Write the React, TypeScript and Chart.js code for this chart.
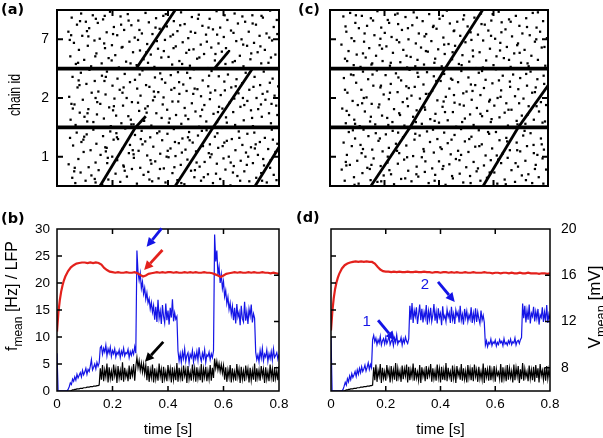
import React, { useEffect, useRef } from "react";
import { Chart, registerables } from "chart.js";

Chart.register(...registerables);

// ================= DATA =================
// raster panels (a) and (c): x = time [ms], y = position along chain (band 0-10: chain 1, 10-20: chain 2, 20-30: chain 7)
const chainLabels = ["1", "2", "7"];
const chainCenters = [5, 15, 25];
const chainBoundaries = [10, 20];
const rasterTickTimesMs = [200, 400, 600];

const dotsA: [number, number][] = [
  [42,3.7],[47,8.2],[55,1.4],[58,6.9],[66,0.5],[71,9.1],[77,4.6],[85,2.3],[88,7.5],[96,5.8],[103,0.9],[107,8.8],[114,3.2],[121,6.1],[124,1.8],[131,9.6],[139,4.0],[142,7.2],[150,2.7],[157,5.3],[163,0.2],[166,8.5],[174,6.6],[181,3.9],[185,1.1],[192,9.3],[199,5.0],[204,7.9],[211,2.1],[217,4.4],[220,8.0],[228,0.7],[235,6.3],[239,3.5],[246,9.8],[252,1.6],[259,5.6],[263,7.0],[270,2.9],[277,4.8],[281,8.7],[288,0.4],[294,6.0],[300,3.1],[305,9.4],[312,1.9],[318,7.6],[325,5.2],[329,2.4],[336,8.3],[343,0.8],[347,6.7],[354,4.2],[361,9.0],[366,1.3],[372,5.5],[379,7.8],[385,3.0],[391,0.6],[398,8.9],[402,4.9],[409,6.4],[416,2.2],[421,9.7],[427,5.1],[434,1.0],[439,7.3],[446,3.6],[452,8.1],[459,0.3],[463,6.2],[470,4.5],[476,9.2],[483,2.6],[489,7.4],[495,1.5],[501,5.9],[508,8.6],[514,3.3],[519,0.9],[526,6.8],[532,4.1],[539,9.5],[544,2.0],[551,7.1],[557,5.4],[562,0.5],[569,8.4],[576,3.8],[581,6.5],[588,1.2],[594,9.9],[600,4.7],[607,2.8],[612,7.7],[619,5.0],[625,0.1],[630,8.0],[637,3.4],[643,6.1],[650,1.7],[655,9.3],[662,4.3],[668,7.0],[675,2.5],[681,5.7],[686,8.9],[693,0.8],[699,6.6],[706,3.9],[711,9.1],[718,1.4],[724,5.3],[731,7.5],[736,2.2],[743,4.6],[749,8.2],[756,0.6],[761,6.3],[768,3.1],[774,9.6],[781,1.9],[787,5.8],[794,7.2],
  [62,2.5],[64,3.1],[95,7.9],[98,8.4],[136,1.2],[139,0.6],[176,5.9],[179,6.5],[183,4.8],[214,9.0],[216,8.3],[241,3.3],[244,2.6],[273,6.1],[276,5.4],[302,8.0],[308,7.1],[333,1.1],[337,4.4],[340,3.8],[369,9.3],[371,2.9],[395,5.0],[399,6.0],[423,3.2],[425,7.5],[448,0.5],[450,5.7],[472,8.3],[478,7.8],[497,2.7],[503,4.0],[522,9.4],[529,1.5],[547,5.6],[552,4.9],[573,2.1],[578,9.0],[597,6.8],[603,7.4],[626,4.0],[634,2.3],[657,8.2],[660,0.9],[684,3.6],[689,5.0],[713,6.4],[716,7.1],[739,0.9],[746,3.5],[770,4.4],[778,7.9],[791,1.0],
  [44,15.2],[49,11.3],[56,18.6],[63,13.9],[67,10.4],[74,16.8],[82,12.5],[86,19.3],[93,14.7],[99,11.8],[106,17.4],[113,13.1],[117,19.8],[125,15.9],[131,10.9],[136,17.9],[144,12.2],[149,16.1],[156,14.0],[162,18.8],[169,11.5],[175,15.6],[180,19.5],[188,13.4],[194,10.2],[200,17.1],[207,14.9],[213,12.0],[218,18.3],[226,16.4],[232,10.7],[238,13.7],[244,19.1],[251,15.0],[257,11.9],[263,17.7],[270,14.3],[276,10.5],[281,18.1],[289,16.6],[296,12.8],[301,15.4],[308,19.7],[314,11.1],[321,17.2],[327,13.6],[333,16.9],[340,10.3],[346,14.6],[353,18.5],[358,12.4],[365,16.0],[372,19.2],[377,11.6],[384,15.1],[390,17.6],[397,13.0],[403,10.8],[410,18.9],[416,14.4],[423,16.7],[429,12.1],[436,19.4],[441,15.7],[448,10.6],[455,17.3],[460,13.3],[467,16.2],[473,11.4],[480,18.4],[486,14.1],[493,19.9],[499,12.7],[506,16.5],[512,10.1],[519,15.3],[525,18.0],[531,13.8],[538,11.0],[545,17.0],[551,14.8],[557,19.6],[564,12.3],[570,16.3],[577,10.9],[583,18.7],[590,15.5],[596,13.2],[603,17.8],[609,11.7],[616,19.0],[622,14.2],[628,16.8],[635,12.6],[642,10.4],[647,18.2],[654,15.8],[661,13.5],[667,17.5],[673,11.2],[680,19.3],[686,14.5],[693,16.4],[699,12.9],[706,10.2],[712,18.6],[719,15.0],[725,13.1],[732,17.2],[738,11.8],[745,19.5],[751,14.7],[758,16.1],[764,12.4],[771,10.7],[777,18.3],[784,15.4],[790,13.7],[797,17.0],
  [52,14.0],[57,13.2],[78,18.0],[81,17.2],[109,11.0],[110,12.4],[139,15.0],[145,14.3],[171,17.9],[176,18.6],[202,12.9],[205,13.6],[236,15.9],[240,16.8],[266,11.3],[268,10.5],[292,14.2],[298,19.0],[318,13.2],[323,12.5],[349,16.1],[352,15.2],[378,18.2],[381,13.9],[406,11.5],[412,16.4],[437,14.4],[440,17.7],[463,12.0],[469,19.3],[491,15.7],[496,16.6],[517,11.9],[523,13.0],[548,18.8],[553,15.9],[580,12.6],[584,13.5],[605,16.3],[612,10.8],[639,14.9],[644,17.0],[670,15.0],[675,13.8],[703,11.6],[708,16.9],[735,13.9],[741,15.7],[767,17.6],[773,14.0],[794,12.1],
  [41,26.3],[48,22.1],[53,28.7],[61,24.4],[68,20.8],[72,27.5],[79,23.2],[87,29.4],[91,25.6],[98,21.5],[104,28.0],[111,23.9],[116,26.9],[123,20.4],[129,29.1],[135,24.8],[142,22.6],[147,27.8],[154,25.1],[161,20.9],[166,28.4],[173,23.5],[179,26.2],[186,21.8],[191,29.7],[198,24.0],[205,27.1],[210,22.3],[217,25.7],[223,20.2],[229,28.9],[236,23.7],[242,26.6],[249,21.2],[255,29.3],[261,24.6],[268,27.4],[274,22.8],[280,25.3],[287,20.6],[293,28.2],[299,23.1],[306,26.0],[312,21.6],[319,29.5],[325,24.2],[331,27.9],[338,22.4],[344,25.9],[351,20.3],[357,28.6],[364,23.4],[370,26.8],[376,21.9],[383,29.0],[389,24.9],[396,27.2],[402,22.0],[409,25.5],[415,20.7],[421,28.1],[428,23.8],[434,26.4],[441,21.3],[447,29.6],[453,24.5],[460,27.6],[466,22.7],[473,25.2],[479,20.5],[486,28.8],[492,23.3],[498,26.1],[505,21.7],[511,29.2],[518,24.1],[524,27.3],[530,22.5],[537,25.8],[543,20.1],[550,28.5],[556,23.6],[562,26.7],[569,21.4],[575,29.8],[582,24.3],[588,27.0],[594,22.9],[601,25.4],[607,20.8],[614,28.3],[620,23.0],[627,26.5],[633,21.1],[640,29.4],[646,24.7],[652,27.7],[659,22.2],[665,25.0],[672,20.4],[678,28.0],[685,23.9],[691,26.3],[697,21.6],[704,29.1],[710,24.4],[717,27.5],[723,22.8],[730,25.6],[736,20.9],[742,28.7],[749,23.2],[755,26.0],[762,21.0],[768,29.9],[775,24.8],[781,27.1],[787,22.4],[794,25.9],
  [46,24.9],[51,25.7],[76,21.0],[83,28.1],[108,26.4],[113,25.5],[138,22.1],[140,28.5],[170,24.3],[172,29.0],[197,21.4],[202,25.9],[231,27.5],[233,23.6],[258,28.2],[265,20.9],[292,24.9],[297,26.6],[322,22.8],[328,21.0],[355,27.0],[360,24.7],[385,23.0],[392,29.3],[418,25.8],[420,23.5],[444,27.4],[451,20.8],[476,23.2],[482,26.3],[508,28.5],[513,21.9],[540,24.6],[546,27.0],[571,22.5],[577,25.8],[604,29.1],[609,23.5],[636,26.1],[641,21.3],[668,28.9],[671,24.1],[700,22.6],[705,27.7],[733,23.8],[737,29.0],[765,25.3],[771,21.9],[792,28.3],
];

const dotsC: [number, number][] = [
  [43,2.8],[50,7.4],[54,0.9],[62,5.3],[69,9.2],[73,3.6],[80,6.8],[88,1.5],[92,8.1],[100,4.3],[105,0.4],[112,7.0],[119,2.2],[123,9.6],[130,5.0],[137,3.1],[141,8.5],[149,1.0],[155,6.2],[160,4.7],[168,9.0],[174,0.7],[178,7.7],[186,3.4],[193,5.9],[197,1.8],[205,8.8],[211,4.0],[216,6.5],[224,2.0],[230,9.4],[235,0.3],[242,7.2],[249,3.8],[254,5.6],[261,1.2],[268,8.3],[272,4.5],[280,6.9],[287,2.6],[291,9.8],[299,0.8],[305,5.1],[310,7.9],[318,3.3],[324,1.6],[329,8.6],[337,4.9],[343,6.3],[348,2.4],[356,9.3],[362,0.5],[367,7.5],[375,3.0],[381,5.7],[386,1.9],[394,8.0],[400,4.2],[405,6.6],[413,2.9],[419,9.1],[424,0.2],[432,7.3],[438,3.7],[443,5.4],[451,1.3],[457,8.7],[462,4.6],[470,6.0],[476,2.1],[481,9.7],[489,0.6],[495,7.6],[500,3.2],[508,5.8],[514,1.7],[519,8.4],[527,4.1],[533,6.7],[538,2.5],[546,9.5],[552,0.9],[557,7.1],[565,3.5],[571,5.2],[576,1.4],[584,8.9],[590,4.4],[595,6.4],[603,2.3],[609,9.2],[614,0.4],[622,7.8],[628,3.9],[633,5.5],[641,1.1],[647,8.2],[652,4.8],[660,6.1],[666,2.7],[671,9.9],[679,0.7],[685,7.4],[690,3.3],[698,5.9],[704,1.8],[709,8.6],[717,4.3],[723,6.8],[728,2.0],[736,9.0],[742,0.5],[747,7.0],[755,3.6],[761,5.3],[766,1.5],[774,8.1],[780,4.7],[785,6.2],[793,2.8],
  [58,4.1],[60,3.5],[84,9.5],[90,0.2],[116,5.6],[121,6.3],[146,2.9],[152,3.6],[183,8.1],[188,0.8],[212,5.0],[218,2.7],[246,6.0],[250,9.1],[276,1.3],[283,4.9],[313,8.9],[317,2.0],[345,5.9],[350,4.2],[378,9.6],[384,0.9],[410,6.3],[416,3.4],[446,7.9],[448,1.7],[475,4.4],[481,5.3],[511,8.0],[516,0.5],[543,3.0],[548,6.8],[580,9.2],[586,2.3],[612,5.2],[617,4.5],[645,0.3],[650,7.6],[681,3.9],[687,6.1],[714,9.4],[719,1.0],[748,5.6],[752,2.9],[777,7.1],[783,0.4],
  [45,13.2],[51,18.4],[58,10.7],[64,15.9],[70,12.1],[77,19.0],[83,14.5],[89,11.3],[96,17.6],[102,13.8],[109,10.2],[115,16.4],[121,19.5],[128,12.7],[134,15.1],[140,18.2],[147,11.0],[153,14.0],[159,17.1],[166,10.5],[172,19.7],[178,13.4],[185,16.8],[191,12.0],[197,15.6],[204,18.9],[210,11.6],[216,14.8],[223,17.4],[229,10.9],[235,13.1],[242,19.2],[248,16.0],[254,12.4],[261,18.0],[267,14.3],[273,10.3],[280,17.0],[286,13.6],[292,19.8],[299,15.4],[305,11.8],[311,16.9],[318,12.9],[324,18.6],[330,14.9],[337,10.6],[343,17.3],[349,13.0],[356,19.4],[362,15.7],[368,11.4],[375,16.2],[381,18.7],[387,12.3],[394,14.6],[400,10.8],[406,17.9],[413,13.5],[419,19.1],[425,15.2],[432,11.2],[438,16.6],[444,18.3],[451,12.6],[457,14.2],[463,10.1],[470,17.7],[476,13.9],[482,19.6],[489,15.8],[495,11.5],[501,16.1],[508,18.5],[514,12.2],[520,14.7],[527,10.4],[533,17.2],[539,13.3],[546,19.3],[552,15.5],[558,11.9],[565,16.7],[571,18.1],[577,12.8],[584,14.4],[590,10.9],[596,17.5],[603,13.7],[609,19.9],[615,15.0],[622,11.7],[628,16.3],[634,18.8],[641,12.5],[647,14.1],[653,10.3],[660,17.8],[666,13.0],[672,19.0],[679,15.3],[685,11.1],[691,16.5],[698,18.4],[704,12.0],[710,14.9],[717,10.6],[723,17.1],[729,13.6],[736,19.5],[742,15.9],[748,11.3],[755,16.8],[761,18.2],[767,12.7],[774,14.3],[780,10.8],[786,17.4],[793,13.8],
  [55,16.4],[61,12.8],[86,18.9],[92,10.6],[118,14.1],[124,15.0],[150,11.8],[156,19.0],[181,13.9],[187,17.1],[214,10.4],[220,15.9],[251,18.5],[257,12.1],[283,14.9],[289,16.7],[315,10.9],[321,19.3],[347,13.4],[352,15.7],[384,11.1],[390,17.9],[417,14.4],[422,12.6],[449,18.1],[455,15.5],[485,10.9],[491,13.7],[517,17.3],[523,16.2],[552,12.3],[558,19.6],[587,14.7],[593,11.4],[620,18.0],[626,15.2],[655,13.0],[661,16.9],[688,10.5],[694,14.1],[720,19.1],[726,12.2],[752,16.0],[758,13.6],[784,18.8],[789,11.0],
  [42,24.1],[49,28.9],[55,21.7],[60,26.3],[68,23.0],[74,29.5],[79,25.2],[87,20.6],[93,27.8],[98,22.4],[106,26.9],[112,20.3],[117,29.0],[125,24.6],[131,21.9],[136,27.3],[144,23.5],[150,28.6],[155,20.9],[163,25.7],[169,22.2],[174,29.8],[182,24.0],[188,27.0],[193,21.3],[201,26.1],[207,23.8],[212,28.3],[220,20.5],[226,25.4],[231,22.7],[239,29.2],[245,24.9],[250,27.6],[258,21.1],[264,26.6],[269,23.2],[277,28.8],[283,20.2],[288,25.0],[296,22.0],[302,27.4],[307,29.6],[315,24.3],[321,21.5],[326,26.0],[334,23.6],[340,28.1],[345,20.7],[353,25.9],[359,22.9],[364,29.3],[372,24.7],[378,27.1],[383,21.0],[391,26.8],[397,23.3],[402,28.5],[410,20.4],[416,25.3],[421,22.5],[429,29.9],[435,24.2],[440,27.7],[448,21.6],[454,26.4],[459,23.9],[467,28.0],[473,20.8],[478,25.6],[486,22.3],[492,29.1],[497,24.5],[505,27.2],[511,21.2],[516,26.2],[524,23.1],[530,28.7],[535,20.1],[543,25.8],[549,22.8],[554,29.4],[562,24.8],[568,27.5],[573,21.4],[581,26.5],[587,23.4],[592,28.2],[600,20.6],[606,25.1],[611,22.1],[619,29.7],[625,24.4],[630,27.9],[638,21.8],[644,26.7],[649,23.7],[657,28.4],[663,20.3],[668,25.5],[676,22.6],[682,29.0],[687,24.0],[695,27.3],[701,21.0],[706,26.0],[714,23.2],[720,28.6],[725,20.9],[733,25.7],[739,22.2],[744,29.5],[752,24.6],[758,27.0],[763,21.5],[771,26.3],[777,23.6],[782,28.1],[790,20.5],[796,25.2],
  [57,27.2],[63,21.3],[89,24.7],[95,29.1],[121,22.6],[127,26.0],[152,20.7],[158,28.2],[185,25.1],[191,23.4],[217,27.8],[223,21.0],[248,29.4],[254,24.5],[281,22.2],[286,26.9],[313,20.4],[319,28.7],[347,25.5],[352,23.0],[380,27.3],[386,21.7],[414,29.0],[419,24.1],[450,22.8],[456,26.5],[483,20.6],[489,28.4],[519,24.9],[525,22.1],[556,27.6],[561,20.2],[591,25.6],[597,29.3],[624,23.1],[629,26.2],[657,21.5],[663,28.0],[690,24.3],[696,22.7],[723,27.1],[729,20.4],[757,25.0],[763,29.6],[787,23.7],
];

// synfire waves: [t0, y0, t1, y1]
const wavesA: [number, number, number, number][] = [
  [155, 0, 283, 10], [426, 0, 563, 10], [714, 0, 800, 6.6],
  [283, 10, 320, 11.9], [563, 10, 704, 20],
  [285, 20, 426, 30], [567, 20, 618, 22.9],
];
const wavesC: [number, number, number, number][] = [
  [150, 0, 294, 10], [562, 0, 691, 10],
  [294, 10, 422, 20], [691, 10, 800, 17.1],
  [422, 20, 560, 30],
];

// time series panels (b) and (d)
const timeTicksMs = [0, 200, 400, 600, 800];
const rateTicks = [0, 5, 10, 15, 20, 25, 30];
const voltTicks = [8, 12, 16, 20];
const sampleStepMs = 4;

const blueB = [
  7,
  0,0,0,0,0,0,0,0,0,0.3,
  0.8,1.5,1.2,2.2,1.8,2.6,2.0,3.1,2.4,2.9,
  3.4,2.6,3.8,3.0,3.5,4.2,3.1,4.0,3.6,4.6,
  5.8,3.9,4.4,5.0,4.1,5.3,4.6,5.2,
  8.0,
  8.3,6.8,7.9,7.2,8.5,6.5,7.8,7.0,8.1,6.4,7.5,6.9,7.8,6.3,7.2,6.8,7.6,6.2,7.4,6.7,7.9,6.5,7.1,6.9,7.7,6.2,7.3,6.6,7.5,6.8,8.2,7.0,
  26,
  22,20.5,21.8,19,20.2,18,19.1,17,18.2,16.3,17.1,15.2,16.4,14.6,15.8,
  13.2,15.6,12.8,16.9,13.5,14.8,12.4,15.9,13.8,12.6,16.2,13.1,14.9,12.3,15.4,13.6,17.0,12.9,14.5,13.3,
  13.8,
  7.4,5.6,6.9,5.3,7.2,6.0,7.8,5.5,6.6,7.1,5.2,6.8,6.2,7.5,5.4,6.9,6.0,7.3,5.7,8.1,6.3,5.5,7.0,6.1,7.6,5.3,6.7,6.4,7.2,5.8,6.9,6.2,7.4,
  29,
  24,26,21.5,23,20,21.6,19,20.3,17.5,18.6,16.2,17.4,15.1,16.3,14.2,15.7,
  13.1,15.4,12.5,16.1,13.7,14.6,12.2,15.8,13.4,12.8,16.5,13.0,14.7,12.4,15.2,13.9,16.0,12.7,14.3,13.5,
  7.2,5.8,6.7,5.4,7.5,6.1,7.9,5.6,6.8,6.3,7.6,5.5,6.9,6.0,7.3,5.7,7.8,6.2,6.6,7.1,5.9,6.8,
];

const blackB = [
  0,0,0,0,0,0,0,0,0,0,0,0,0,
  0.1,0.2,0.2,0.3,0.3,0.4,0.4,0.4,0.5,0.5,0.5,0.6,0.6,0.6,0.7,0.7,0.7,0.8,0.8,0.8,0.9,0.9,0.9,1.0,1.0,1.1,
  4.2,2.1,4.8,1.8,3.9,2.6,5.1,1.6,4.4,2.3,3.7,1.9,4.9,2.8,4.1,1.5,4.6,2.4,3.8,2.0,5.3,1.7,4.3,2.6,3.6,1.8,4.7,2.2,4.0,2.9,5.0,1.9,4.5,
  6.2,4.3,5.6,3.8,5.2,3.5,5.0,3.2,4.8,
  2.0,4.6,1.7,3.9,2.5,4.9,1.6,4.2,2.2,3.7,1.9,5.1,2.7,4.0,1.5,4.5,2.3,3.6,1.8,4.8,
  2.6,4.1,1.6,4.4,2.1,3.8,2.0,5.2,1.7,4.3,2.4,3.9,1.8,4.7,2.8,4.0,1.5,4.6,2.2,3.5,
  1.9,4.9,2.5,4.2,1.7,4.4,2.3,3.8,2.0,5.0,1.6,4.1,2.6,4.5,1.8,3.7,2.2,4.8,1.9,4.3,
  2.4,
  6.0,4.2,5.5,3.9,5.1,3.6,4.9,3.3,4.7,
  2.1,4.4,1.7,3.9,2.5,4.8,1.6,4.2,2.3,3.6,1.9,5.0,2.6,4.0,1.5,4.5,2.2,3.7,1.8,4.7,
  2.7,4.1,1.6,4.3,2.0,3.8,2.1,5.1,1.7,4.2,2.4,3.9,1.9,4.6,2.8,4.0,1.5,4.4,2.2,3.6,
  1.8,4.9,2.5,4.1,1.7,4.3,2.3,3.8,2.0,4.6,
];

const blueD = [
  10,
  0,0,0,0,0,0,0,0,0,0,0.3,
  0.9,1.6,1.1,2.3,1.7,2.8,2.1,3.2,2.5,3.0,3.6,2.7,3.9,3.1,4.2,3.4,4.5,3.6,4.1,4.8,3.7,4.4,5.2,4.0,4.9,4.3,
  9.5,
  10.3,9.1,9.8,8.6,9.5,8.9,10.1,8.5,9.3,9.7,8.7,9.9,8.8,9.4,10.2,8.6,9.2,9.6,8.4,9.8,9.0,10.4,8.7,9.3,9.1,9.9,8.5,9.6,8.9,10.0,9.2,8.8,9.7,
  15.8,13.2,16.3,12.6,14.9,13.8,15.5,12.4,14.2,16.0,13.1,15.2,12.7,14.6,13.5,15.9,12.3,14.8,13.3,15.4,
  12.9,14.1,16.1,13.0,14.7,12.5,15.3,13.6,14.4,12.2,15.7,13.4,14.0,12.8,15.1,13.7,14.5,12.6,15.6,13.2,
  14.3,12.4,15.0,13.9,14.6,12.7,15.8,13.1,14.2,12.3,15.2,13.5,14.8,12.9,14.1,13.3,15.5,12.6,14.4,13.0,
  15.3,12.8,14.6,13.4,12.5,14.9,13.1,14.0,12.7,
  8.5,9.3,8.2,9.0,8.7,9.6,8.4,9.1,8.8,9.4,8.3,9.0,8.6,9.5,8.9,9.2,8.4,9.7,8.7,9.0,8.5,9.3,8.8,9.6,8.6,9.1,8.9,9.8,8.5,9.2,9.4,8.8,9.5,9.9,
  16.2,13.5,15.8,12.7,14.9,13.2,16.0,12.5,14.4,13.8,15.6,12.9,14.7,13.4,15.2,12.3,14.1,13.6,15.5,12.8,14.6,13.0,15.9,12.6,14.2,13.3,
];

const blackD = [
  0,0,0,0,0,0,0,0,0,0,0,0,0,
  0.1,0.2,0.2,0.3,0.3,0.4,0.4,0.4,0.5,0.5,0.5,0.6,0.6,0.6,0.7,0.7,0.7,0.8,0.8,0.8,0.9,0.9,0.9,1.0,1.0,1.1,
  4.4,2.0,4.9,1.7,3.8,2.7,5.0,1.5,4.3,2.4,3.6,1.9,4.8,2.9,4.0,1.6,4.6,2.3,3.9,2.1,
  5.2,1.8,4.2,2.5,3.7,1.7,4.7,2.2,4.1,2.8,4.9,1.6,4.5,2.0,3.9,2.6,5.1,1.9,4.3,2.4,
  3.5,2.0,4.8,1.5,4.4,2.7,3.8,1.8,4.6,2.2,4.0,2.9,5.0,1.7,4.2,2.3,3.7,1.9,4.9,2.5,
  4.1,1.6,4.5,2.1,3.9,2.0,5.2,1.8,4.3,2.6,3.6,1.7,4.7,2.4,4.0,1.5,4.6,2.8,3.8,2.1,
  5.0,1.9,4.2,2.2,3.7,1.6,4.8,2.5,4.1,2.0,4.4,1.8,4.9,2.7,3.9,1.7,4.5,2.3,3.6,2.1,
  5.1,1.5,4.3,2.6,4.0,1.9,4.7,2.0,3.8,2.4,4.6,1.7,4.1,2.9,3.5,2.2,5.0,1.6,4.4,2.3,
  3.9,1.8,4.8,2.1,4.2,2.5,3.7,1.6,4.9,2.0,4.3,2.7,4.6,1.5,4.0,2.2,5.2,1.9,4.1,2.6,
  3.6,1.8,4.7,2.3,3.9,2.0,4.5,1.7,4.8,2.4,4.2,1.6,5.0,2.8,3.8,2.1,4.4,1.9,4.6,2.3,
  4.0,2.5,
];

const redTimesMs = [
  0,5,10,15,20,25,30,
  40,50,60,70,80,90,100,110,120,130,
  140,150,160,170,180,190,200,210,220,230,
  240,250,260,270,280,290,300,310,320,330,
  340,350,360,370,380,390,400,410,420,430,
  440,450,460,470,480,490,500,510,520,530,
  540,550,560,570,580,590,600,610,620,630,
  640,650,660,670,680,690,700,710,720,730,
  740,750,760,770,780,790,800,
];
const redB = [
  11.0,14.5,16.8,18.4,19.6,20.5,21.2,
  22.2,22.9,23.3,23.6,23.7,23.8,23.8,23.7,23.8,23.7,
  23.8,23.7,23.4,22.8,22.4,22.1,22.0,21.9,22.0,21.9,
  21.9,22.0,21.9,21.9,22.0,21.8,21.5,21.2,21.4,21.7,
  21.8,21.9,22.0,21.9,22.0,21.9,22.0,22.0,21.9,22.0,
  21.9,21.9,22.0,21.9,22.0,21.9,22.0,21.9,21.9,22.0,
  21.9,21.9,21.8,21.6,21.4,21.1,21.4,21.7,21.8,21.9,
  22.0,21.9,22.0,21.9,21.9,22.0,21.9,22.0,21.9,21.9,
  22.0,21.9,21.9,21.8,21.9,21.8,21.7,
];
const redD = [
  11.2,14.8,17.2,18.9,20.1,21.0,21.7,
  22.7,23.3,23.6,23.8,23.9,24.0,23.9,24.0,23.9,24.0,
  23.9,23.9,23.6,23.0,22.5,22.2,22.1,22.1,22.0,22.1,
  22.0,22.1,22.0,22.0,22.1,22.0,22.0,22.1,22.0,22.0,
  22.1,22.0,22.0,21.9,22.0,22.0,21.9,22.0,22.0,21.9,
  22.0,21.9,22.0,21.9,21.9,22.0,21.9,21.9,22.0,21.9,
  21.9,21.9,22.0,21.9,21.9,21.8,21.9,21.9,21.8,21.9,
  21.9,21.8,21.9,21.8,21.8,21.9,21.8,21.8,21.9,21.8,
  21.8,21.8,21.7,21.8,21.8,21.7,21.8,
];

// annotation arrows [tTail(ms), yTail, tHead(ms), yHead] in panel data units
const arrowBlueB = [377, 30.1, 323, 26.7];
const arrowRedB = [380, 26.1, 314, 22.4];
const arrowBlackB = [383, 9.1, 317, 5.4];
const arrowOneD = [172, 13.1, 233, 9.4];
const arrowTwoD = [391, 20.2, 452, 16.5];
const labelOneD = [130, 12.8];
const labelTwoD = [343, 19.6];

// ================= STYLE / HELPERS =================
const SANS = '"Liberation Sans", Arial, Helvetica, sans-serif';
const BOLD = '"DejaVu Sans", sans-serif';
const RED = "#e3211c";
const BLUE = "#1414e6";
const TICK_FONT = { family: SANS, size: 13.5 };

const W = 603;
const H = 438;

function pts(xs: number[], ys: number[]) {
  return ys.map((y, i) => ({ x: xs[i], y }));
}

function fixedTicks(values: number[]) {
  return (scale: any) => {
    scale.ticks = values.map((v) => ({ value: v }));
  };
}

function fitV(width: number) {
  return (s: any) => {
    s.width = s.options.display ? width : 0;
    s.paddingTop = 0;
    s.paddingBottom = 0;
  };
}

function fitH(height: number) {
  return (s: any) => {
    s.height = s.options.display ? height : 0;
    s.paddingLeft = 0;
    s.paddingRight = 0;
  };
}

function drawArrow(ctx: CanvasRenderingContext2D, x0: number, y0: number, x1: number, y1: number, color: string) {
  const head = 9;
  const hw = 4.5;
  const a = Math.atan2(y1 - y0, x1 - x0);
  const bx = x1 - head * Math.cos(a);
  const by = y1 - head * Math.sin(a);
  ctx.save();
  ctx.strokeStyle = color;
  ctx.fillStyle = color;
  ctx.lineWidth = 2.8;
  ctx.beginPath();
  ctx.moveTo(x0, y0);
  ctx.lineTo(bx, by);
  ctx.stroke();
  ctx.beginPath();
  ctx.moveTo(x1, y1);
  ctx.lineTo(bx + hw * Math.sin(a), by - hw * Math.cos(a));
  ctx.lineTo(bx - hw * Math.sin(a), by + hw * Math.cos(a));
  ctx.closePath();
  ctx.fill();
  ctx.restore();
}

function drawVTitle(ctx: CanvasRenderingContext2D, cx: number, cy: number, parts: [string, boolean][], size: number, lenScale = 1) {
  ctx.save();
  ctx.translate(cx, cy);
  ctx.rotate(-Math.PI / 2);
  ctx.scale(lenScale, 1);
  ctx.fillStyle = "#000";
  ctx.textAlign = "left";
  ctx.textBaseline = "alphabetic";
  const sub = size * 0.75;
  let total = 0;
  for (const [t, s] of parts) {
    ctx.font = `${s ? sub : size}px ${SANS}`;
    total += ctx.measureText(t).width;
  }
  let x = -total / 2;
  const base = size * 0.36;
  for (const [t, s] of parts) {
    ctx.font = `${s ? sub : size}px ${SANS}`;
    ctx.fillText(t, x, s ? base + size * 0.3 : base);
    x += ctx.measureText(t).width;
  }
  ctx.restore();
}

function drawPanelLabel(ctx: CanvasRenderingContext2D, text: string, x: number, y: number) {
  ctx.save();
  ctx.fillStyle = "#000";
  ctx.font = `bold 14.5px ${BOLD}`;
  ctx.textAlign = "left";
  ctx.textBaseline = "middle";
  ctx.fillText(text, x, y);
  ctx.restore();
}

function framePlugin(o: { lw: number; len: number; left?: number[]; right?: number[]; rightScale?: string; xt: number[] }) {
  return {
    id: "frame",
    afterDatasetsDraw(chart: any) {
      const { ctx, chartArea: a, scales } = chart;
      ctx.save();
      ctx.strokeStyle = "#000";
      ctx.lineWidth = o.lw;
      ctx.beginPath();
      (o.left || []).forEach((v) => {
        const y = scales.y.getPixelForValue(v);
        ctx.moveTo(a.left, y);
        ctx.lineTo(a.left + o.len, y);
      });
      (o.right || []).forEach((v) => {
        const y = scales[o.rightScale || "y"].getPixelForValue(v);
        ctx.moveTo(a.right, y);
        ctx.lineTo(a.right - o.len, y);
      });
      o.xt.forEach((v) => {
        const x = scales.x.getPixelForValue(v);
        ctx.moveTo(x, a.bottom);
        ctx.lineTo(x, a.bottom - o.len);
        ctx.moveTo(x, a.top);
        ctx.lineTo(x, a.top + o.len);
      });
      ctx.stroke();
      ctx.strokeRect(a.left, a.top, a.right - a.left, a.bottom - a.top);
      ctx.restore();
    },
  };
}

function overlayPlugin(draw: (chart: any) => void) {
  return { id: "overlay", afterDraw: draw };
}

const baseOptions = {
  responsive: false,
  animation: false,
  devicePixelRatio: 1,
  events: [],
  plugins: { legend: { display: false }, tooltip: { enabled: false } },
};

function rasterConfig(dots: [number, number][], waves: [number, number, number, number][], showLabels: boolean, padding: any, overlay: (c: any) => void) {
  const datasets: any[] = [
    {
      data: dots.map(([x, y]) => ({ x, y })),
      pointStyle: "rect",
      pointRadius: 1.6,
      backgroundColor: "#000",
      borderWidth: 0,
      showLine: false,
    },
  ];
  chainBoundaries.forEach((b) =>
    datasets.push({ data: [{ x: 0, y: b }, { x: 800, y: b }], showLine: true, borderColor: "#000", borderWidth: 3.6, pointRadius: 0 })
  );
  waves.forEach(([x0, y0, x1, y1]) =>
    datasets.push({ data: [{ x: x0, y: y0 }, { x: x1, y: y1 }], showLine: true, borderColor: "#000", borderWidth: 2.8, pointRadius: 0 })
  );
  return {
    type: "scatter",
    data: { datasets },
    options: {
      ...baseOptions,
      layout: { padding },
      scales: {
        x: { type: "linear", min: 0, max: 800, display: false, afterFit: fitH(0) },
        y: {
          type: "linear",
          min: 0,
          max: 30,
          display: showLabels,
          afterBuildTicks: fixedTicks(chainCenters),
          afterFit: fitV(30),
          ticks: {
            callback: (_v: any, i: number) => chainLabels[i],
            font: { family: SANS, size: 14 },
            color: "#000",
            padding: 8,
          },
          grid: { display: false, drawTicks: false },
          border: { display: false },
        },
      },
    },
    plugins: [
      framePlugin({ lw: 2, len: 6, left: chainCenters, right: chainCenters, xt: rasterTickTimesMs }),
      overlayPlugin(overlay),
    ],
  };
}

function traceConfig(red: number[], blue: number[], black: number[], showLeft: boolean, showRight: boolean, padding: any, overlay: (c: any) => void) {
  const times = blue.map((_, i) => i * sampleStepMs);
  return {
    type: "scatter",
    data: {
      datasets: [
        { data: pts(redTimesMs, red), showLine: true, borderColor: RED, borderWidth: 2.2, pointRadius: 0, yAxisID: "y" },
        { data: pts(times, blue), showLine: true, borderColor: BLUE, borderWidth: 1.2, pointRadius: 0, yAxisID: "y" },
        { data: pts(times, black), showLine: true, borderColor: "#000", borderWidth: 1.2, pointRadius: 0, yAxisID: "y" },
      ],
    },
    options: {
      ...baseOptions,
      layout: { padding },
      scales: {
        x: {
          type: "linear",
          position: "bottom",
          min: 0,
          max: 800,
          afterBuildTicks: fixedTicks(timeTicksMs),
          afterFit: fitH(24),
          ticks: {
            callback: (v: number) => String(v / 1000),
            font: TICK_FONT,
            color: "#000",
            padding: 5,
            maxRotation: 0,
            autoSkip: false,
          },
          grid: { display: false, drawTicks: false },
          border: { display: false },
        },
        y: {
          type: "linear",
          position: "left",
          min: 0,
          max: 30,
          display: showLeft,
          afterBuildTicks: fixedTicks(rateTicks),
          afterFit: fitV(40),
          ticks: { font: TICK_FONT, color: "#000", padding: 7 },
          grid: { display: false, drawTicks: false },
          border: { display: false },
        },
        y2: {
          type: "linear",
          position: "right",
          min: 6,
          max: 20,
          display: showRight,
          afterBuildTicks: fixedTicks(voltTicks),
          afterFit: fitV(45),
          ticks: { font: { family: SANS, size: 14 }, color: "#000", padding: 11 },
          grid: { display: false, drawTicks: false },
          border: { display: false },
        },
      },
    },
    plugins: [
      framePlugin({ lw: 1.5, len: 5, left: rateTicks.slice(1, -1), right: voltTicks.slice(0, -1), rightScale: "y2", xt: [200, 400, 600] }),
      overlayPlugin(overlay),
    ],
  };
}

function arrowFrom(chart: any, a: number[], color: string) {
  const { x, y } = chart.scales;
  drawArrow(chart.ctx, x.getPixelForValue(a[0]), y.getPixelForValue(a[1]), x.getPixelForValue(a[2]), y.getPixelForValue(a[3]), color);
}

function timeTitle(chart: any) {
  const ctx = chart.ctx;
  const a = chart.chartArea;
  ctx.save();
  ctx.fillStyle = "#000";
  ctx.font = `15px ${SANS}`;
  ctx.textAlign = "center";
  ctx.textBaseline = "middle";
  ctx.fillText("time [s]", (a.left + a.right) / 2, 430);
  ctx.restore();
}

export default function App() {
  const refA = useRef<HTMLCanvasElement>(null);
  const refB = useRef<HTMLCanvasElement>(null);
  const refC = useRef<HTMLCanvasElement>(null);
  const refD = useRef<HTMLCanvasElement>(null);

  useEffect(() => {
    document.body.style.margin = "0";
    const charts: Chart[] = [];

    charts.push(
      new Chart(
        refA.current as HTMLCanvasElement,
        rasterConfig(dotsA, wavesA, true, { left: 27, right: 324, top: 10, bottom: 252 }, (c) => {
          drawPanelLabel(c.ctx, "(a)", 1, 10);
          drawVTitle(c.ctx, 14, 95, [["chain id", false]], 16, 0.76);
        }) as any
      )
    );
    charts.push(
      new Chart(
        refC.current as HTMLCanvasElement,
        rasterConfig(dotsC, wavesC, false, { left: 330, right: 55, top: 10, bottom: 252 }, (c) => {
          drawPanelLabel(c.ctx, "(c)", 298, 10);
        }) as any
      )
    );
    charts.push(
      new Chart(
        refB.current as HTMLCanvasElement,
        traceConfig(redB, blueB, blackB, true, false, { left: 17, right: 324, top: 229, bottom: 23 }, (c) => {
          drawPanelLabel(c.ctx, "(b)", 1, 219);
          drawVTitle(c.ctx, 11, 296, [["f", false], ["mean", true], [" [Hz] / LFP", false]], 16);
          timeTitle(c);
          arrowFrom(c, arrowBlueB, BLUE);
          arrowFrom(c, arrowRedB, RED);
          arrowFrom(c, arrowBlackB, "#000");
        }) as any
      )
    );
    charts.push(
      new Chart(
        refD.current as HTMLCanvasElement,
        traceConfig(redD, blueD, blackD, false, true, { left: 331, right: 8, top: 229, bottom: 23 }, (c) => {
          drawPanelLabel(c.ctx, "(d)", 296, 218);
          drawVTitle(c.ctx, 594, 307, [["V", false], ["mean", true], [" [mV]", false]], 17);
          timeTitle(c);
          arrowFrom(c, arrowOneD, BLUE);
          arrowFrom(c, arrowTwoD, BLUE);
          const ctx = c.ctx;
          ctx.save();
          ctx.fillStyle = BLUE;
          ctx.font = `15px ${SANS}`;
          ctx.textAlign = "center";
          ctx.textBaseline = "middle";
          ctx.fillText("1", c.scales.x.getPixelForValue(labelOneD[0]), c.scales.y.getPixelForValue(labelOneD[1]));
          ctx.fillText("2", c.scales.x.getPixelForValue(labelTwoD[0]), c.scales.y.getPixelForValue(labelTwoD[1]));
          ctx.restore();
        }) as any
      )
    );

    return () => charts.forEach((c) => c.destroy());
  }, []);

  const cs: React.CSSProperties = { position: "absolute", left: 0, top: 0 };
  return (
    <div style={{ position: "relative", width: W, height: H, overflow: "hidden", background: "#fff" }}>
      <canvas ref={refA} width={W} height={H} style={cs} />
      <canvas ref={refC} width={W} height={H} style={cs} />
      <canvas ref={refB} width={W} height={H} style={cs} />
      <canvas ref={refD} width={W} height={H} style={cs} />
    </div>
  );
}
